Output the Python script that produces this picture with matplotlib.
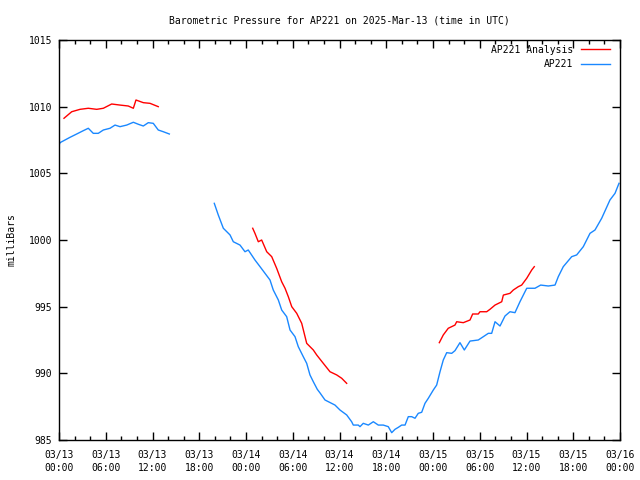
import numpy as np
import pandas as pd
import matplotlib
matplotlib.use("Agg")
import matplotlib.pyplot as plt
import matplotlib.dates as mdates

# hours after 2025-03-13 00:00 UTC, pressure in millibars
# NaN separates the gaps in each record
analysis_hours = [0.64, 1.63, 2.70, 3.76, 4.84, 5.69, 6.76, 7.83, 8.89, 9.54, 9.88, 10.82, 11.68, 12.74,
                  np.nan,
                  24.86, 25.15, 25.58, 26.01, 26.66, 27.30, 27.94, 28.58, 29.01, 29.43, 29.87, 30.51,
                  31.15, 31.79, 32.64, 33.07, 33.92, 34.78, 35.64, 36.28, 36.92,
                  np.nan,
                  48.81, 49.32, 49.96, 50.82, 51.04, 51.89, 52.75, 53.09, 53.81, 54.03, 54.89, 55.31,
                  55.96, 56.82, 57.03, 57.88, 58.31, 58.95, 59.38, 60.03, 60.67, 61.00]
analysis_mb = [1009.13, 1009.62, 1009.80, 1009.88, 1009.80, 1009.88, 1010.20, 1010.12, 1010.05, 1009.88,
               1010.50, 1010.30, 1010.25, 1010.00,
               np.nan,
               1000.88, 1000.50, 999.87, 1000.00, 999.12, 998.75, 997.87, 996.87, 996.38, 995.75, 995.00,
               994.50, 993.75, 992.25, 991.75, 991.38, 990.75, 990.12, 989.88, 989.63, 989.25,
               np.nan,
               992.30, 992.88, 993.38, 993.62, 993.87, 993.80, 994.00, 994.45, 994.45, 994.62, 994.62,
               994.80, 995.12, 995.37, 995.87, 996.00, 996.25, 996.50, 996.62, 997.13, 997.75, 998.00]

obs_hours = [0.0, 0.13, 1.41, 2.27, 3.12, 3.76, 4.40, 5.04, 5.69, 6.55, 7.19, 7.83, 8.69, 9.54, 10.18,
             10.82, 11.46, 12.10, 12.74, 13.39, 14.16,
             np.nan,
             19.93, 20.44, 21.09, 21.95, 22.37, 23.23, 23.87, 24.29, 25.15, 25.80, 26.44, 27.08, 27.50,
             28.15, 28.58, 29.22, 29.65, 30.29, 30.71, 31.35, 31.79, 32.21, 32.64, 33.15, 33.50, 34.14,
             35.42, 36.06, 36.92, 37.56, 37.77, 38.41, 38.63, 39.05, 39.70, 40.34, 40.98, 41.62, 42.26,
             42.70, 43.12, 43.55, 43.98, 44.41, 44.83, 45.27, 45.69, 46.11, 46.55, 46.97, 47.40, 48.04,
             48.47, 48.90, 49.32, 49.76, 50.40, 50.82, 51.46, 52.02, 52.75, 53.81, 54.46, 55.10, 55.53,
             55.96, 56.60, 57.24, 57.88, 58.52, 59.16, 60.03, 61.09, 61.82, 62.80, 63.66, 64.08, 64.72,
             65.80, 66.44, 67.29, 68.15, 68.79, 69.65, 70.71, 71.36, 71.87]
obs_mb = [1007.10, 1007.30, 1007.70, 1007.95, 1008.20, 1008.38, 1008.00, 1008.00, 1008.25, 1008.38,
          1008.62, 1008.50, 1008.62, 1008.83, 1008.68, 1008.55, 1008.80, 1008.75, 1008.25, 1008.12, 1007.95,
          np.nan,
          1002.75, 1001.88, 1000.88, 1000.38, 999.87, 999.62, 999.12, 999.25, 998.50, 998.00, 997.50,
          997.00, 996.25, 995.50, 994.75, 994.25, 993.25, 992.75, 992.00, 991.25, 990.75, 989.88, 989.37,
          988.80, 988.53, 988.00, 987.62, 987.25, 986.88, 986.37, 986.12, 986.12, 986.00, 986.25, 986.12,
          986.37, 986.12, 986.12, 986.00, 985.55, 985.80, 985.95, 986.12, 986.12, 986.75, 986.75, 986.63,
          987.00, 987.08, 987.75, 988.13, 988.75, 989.12, 990.12, 991.00, 991.55, 991.50, 991.70, 992.30,
          991.75, 992.42, 992.50, 992.75, 993.00, 993.00, 993.87, 993.55, 994.30, 994.62, 994.55, 995.37,
          996.38, 996.38, 996.62, 996.55, 996.62, 997.25, 998.00, 998.75, 998.88, 999.50, 1000.50,
          1000.75, 1001.63, 1003.00, 1003.50, 1004.25]

start = mdates.date2num(pd.Timestamp("2025-03-13 00:00").to_pydatetime())


def to_days(hours):
    # matplotlib date numbers (days), NaN stays NaN so the gaps remain
    return start + np.array(hours, dtype=float) / 24.0


plt.rcParams['font.family'] = ['DejaVu Sans Mono']
plt.rcParams['font.size'] = 7

fig = plt.figure(figsize=(6.4, 4.8), dpi=100)
ax = fig.add_axes([59 / 640, 40 / 480, 561 / 640, 400 / 480])

ax.plot(to_days(analysis_hours), analysis_mb, color='#ff0000', lw=1, label='AP221 Analysis')
ax.plot(to_days(obs_hours), obs_mb, color='#1a88ff', lw=1, label='AP221')

ax.xaxis_date()
ax.set_xlim(start, start + 3)
ax.set_ylim(985, 1015)
ax.set_yticks(range(985, 1016, 5))

ax.xaxis.set_major_locator(mdates.HourLocator(byhour=range(0, 24, 6)))
ax.xaxis.set_minor_locator(mdates.HourLocator(byhour=range(0, 24, 2)))
ax.xaxis.set_major_formatter(mdates.DateFormatter('%m/%d\n%H:%M'))

ax.tick_params(which='both', direction='in', top=True, right=True, width=1, color='black')
ax.tick_params(which='major', length=6, pad=5)
ax.tick_params(which='minor', length=3)
ax.tick_params(axis='x', which='major', pad=7)
for lbl in ax.get_xticklabels():
    lbl.set_linespacing(1.4)
for s in ax.spines.values():
    s.set_linewidth(1)

ax.set_title('Barometric Pressure for AP221 on 2025-Mar-13 (time in UTC)', fontsize=7, pad=12)
ax.set_ylabel('milliBars', labelpad=9)

ax.legend(loc='upper right', bbox_to_anchor=(1 - 5 / 561, 1), frameon=False, markerfirst=False,
          handlelength=3.0, handletextpad=0.8, labelspacing=0.45, borderaxespad=0.3, borderpad=0.2)

fig.savefig('out.png', dpi=100)
